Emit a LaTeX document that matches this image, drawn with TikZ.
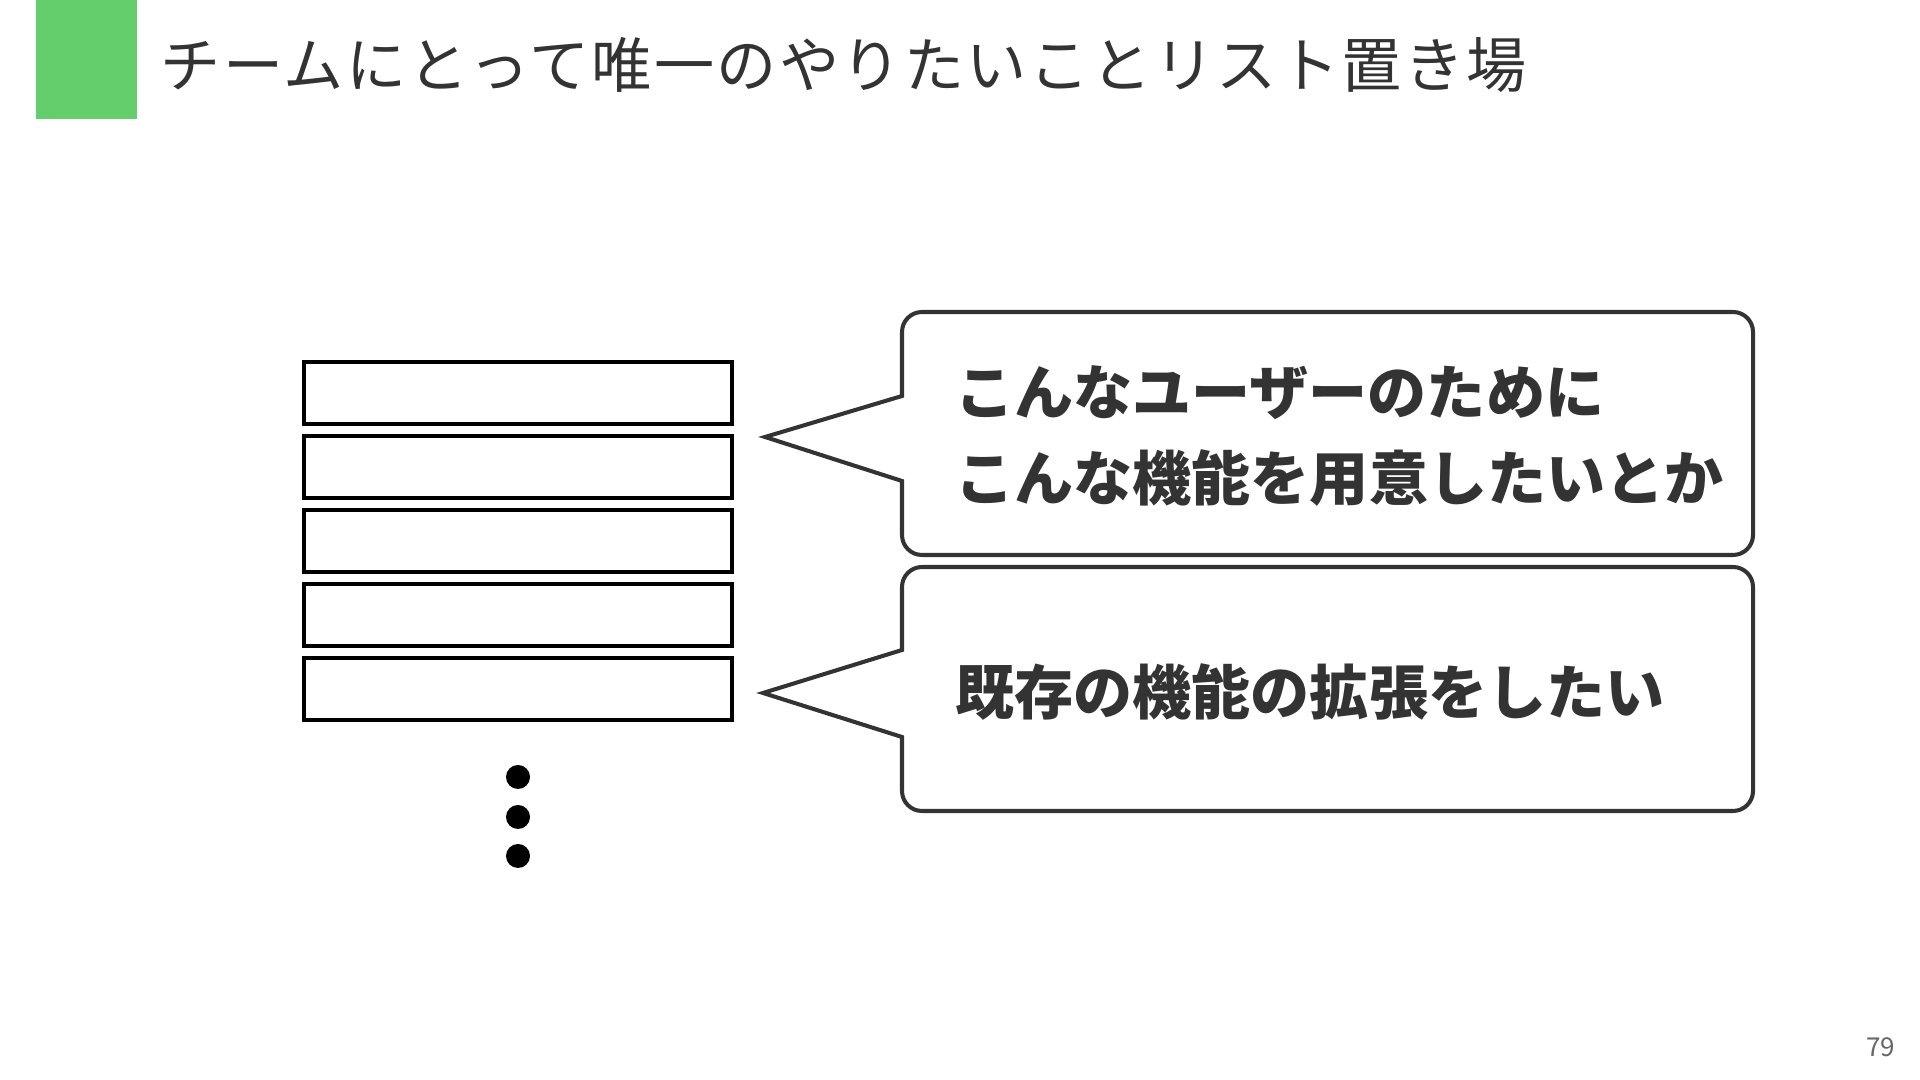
\documentclass[tikz,border=0pt]{standalone}
\usepackage{fontspec}
\usepackage{xcolor}
\newfontfamily\jp{Noto Sans CJK JP}
\newfontfamily\jptitle[LetterSpace=4]{Noto Sans CJK JP}
\definecolor{slidegreen}{HTML}{63CE6B}
\definecolor{inkgray}{HTML}{333333}
\definecolor{pagegray}{HTML}{666666}

\begin{document}
\begin{tikzpicture}[
    slot/.style={draw=black, line width=1.15pt, minimum width=4.28cm, minimum height=0.62cm, inner sep=0pt},
    dot/.style={circle, fill=black, minimum size=0.24cm, inner sep=0pt},
    bubble/.style={draw=inkgray, line width=1.15pt, line join=miter},
    say/.style={text=inkgray, font=\jp\bfseries\fontsize{16.8}{24.5}\selectfont, anchor=west, inner sep=0pt, align=left}
]
    \useasboundingbox (0,0) rectangle (19.2,10.8);

    % Title bar
    \fill[slidegreen] (0.355,9.61) rectangle (1.37,10.8);
    \node[text=inkgray, font=\jptitle\fontsize{17.1}{20}\selectfont, anchor=west, inner sep=0pt] (title) at (1.6,10.15) {チームにとって唯一のやりたいことリスト置き場};

    % Stacked list slots
    \node[slot] (slot1) at (5.18,6.87) {};
    \node[slot] (slot2) at (5.18,6.13) {};
    \node[slot] (slot3) at (5.18,5.39) {};
    \node[slot] (slot4) at (5.18,4.65) {};
    \node[slot] (slot5) at (5.18,3.91) {};

    % Dots below the list
    \node[dot] (dot1) at (5.18,3.03) {}; \node[dot] (dot2) at (5.18,2.63) {}; \node[dot] (dot3) at (5.18,2.24) {};

    % Speech bubble 1
    \draw[bubble] (9.02,6.84) -- (9.02,7.48) arc[start angle=180, end angle=90, radius=0.2]
        -- (17.33,7.68) arc[start angle=90, end angle=0, radius=0.2]
        -- (17.53,5.45) arc[start angle=0, end angle=-90, radius=0.2]
        -- (9.22,5.25) arc[start angle=270, end angle=180, radius=0.2]
        -- (9.02,5.99) -- (7.65,6.43) -- cycle;
    % Speech bubble 2
    \draw[bubble] (9.02,4.30) -- (9.02,4.93) arc[start angle=180, end angle=90, radius=0.2]
        -- (17.33,5.13) arc[start angle=90, end angle=0, radius=0.2]
        -- (17.53,2.89) arc[start angle=0, end angle=-90, radius=0.2]
        -- (9.22,2.69) arc[start angle=270, end angle=180, radius=0.2]
        -- (9.02,3.43) -- (7.63,3.87) -- cycle;

    % Bubble texts
    \node[say] (wish1) at (9.55,6.44) {こんなユーザーのために\\こんな機能を用意したいとか};
    \node[say] (wish2) at (9.55,3.88) {既存の機能の拡張をしたい};

    % Page number
    \node[text=pagegray, font=\jp\fontsize{7.4}{9}\selectfont, anchor=east, inner sep=0pt] (page) at (18.96,0.33) {79};
\end{tikzpicture}
\end{document}
